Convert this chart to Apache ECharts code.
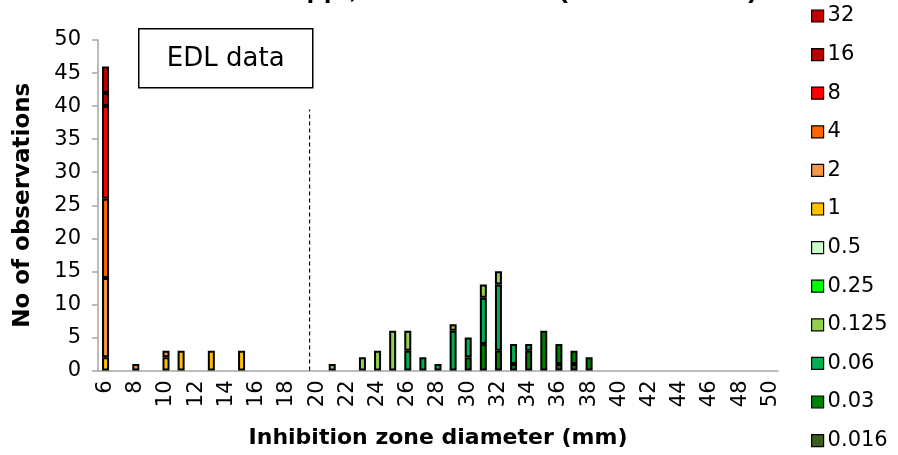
<!DOCTYPE html>
<html>
<head>
<meta charset="utf-8">
<script src="https://cdn.jsdelivr.net/npm/echarts@6/dist/echarts.min.js"></script>
<style>
  html, body { margin: 0; padding: 0; background: #fff; }
  #chart { width: 898px; height: 455px; }
</style>
</head>
<body>
<div id="chart"></div>
<script>
// zone diameters 6..50 mm
let zones = [];
for (let d = 6; d <= 50; d++) zones.push(String(d));

// MIC levels, bottom of the stack first
let micLevels = ['0.016', '0.03', '0.06', '0.125', '0.25', '0.5', '1', '2', '4', '8', '16', '32'];
let micColors = ['#3A5F1E', '#008000', '#00B050', '#92D050', '#00FF00', '#CCFFCC',
                 '#FFC000', '#F79646', '#FF6600', '#FF0000', '#B80000', '#C00000'];

// observations per zone diameter: [diameter, count]
let obs0016 = [[36, 1], [37, 1]];
let obs003 = [[30, 2], [31, 4], [32, 3], [33, 1], [34, 3], [35, 6], [36, 3], [37, 2], [38, 2]];
let obs006 = [[26, 3], [27, 2], [28, 1], [29, 6], [30, 3], [31, 7], [32, 10], [33, 3], [34, 1]];
let obs0125 = [[21, 1], [23, 2], [24, 3], [25, 6], [26, 3], [29, 1], [31, 2], [32, 2]];
let obs025 = [];
let obs05 = [];
let obs1 = [[6, 2], [10, 2], [11, 3], [13, 3], [15, 3]];
let obs2 = [[6, 12], [8, 1], [10, 1]];
let obs4 = [[6, 12]];
let obs8 = [[6, 14]];
let obs16 = [[6, 2]];
let obs32 = [[6, 4]];
let allObs = [obs0016, obs003, obs006, obs0125, obs025, obs05, obs1, obs2, obs4, obs8, obs16, obs32];

// breakpoint line between 19 and 20 mm
let breakpoint = 19.5;
let breakpointTop = 39.5;

function toSeriesData(pairs) {
  let arr = zones.map(() => 0);
  pairs.forEach(p => { arr[p[0] - 6] = p[1]; });
  return arr.map(v => v === 0 ? '-' : v);
}

let chart = echarts.init(document.querySelector('#chart'));

let series = micLevels.map((name, i) => ({
  name: name,
  type: 'bar',
  stack: 'mic',
  barWidth: 7,
  data: toSeriesData(allObs[i]),
  itemStyle: { color: micColors[i], borderColor: '#000', borderWidth: 2 }
}));

series.push({
  name: 'bp',
  type: 'line',
  xAxisIndex: 1,
  symbol: 'none',
  silent: true,
  data: [[breakpoint, 0], [breakpoint, breakpointTop]],
  lineStyle: { color: '#000', width: 1.2, type: [4, 3] }
});

let font = '"DejaVu Sans", Arial, sans-serif';

let option = {
  animation: false,
  textStyle: { fontFamily: font },
  grid: { left: 98, right: 120, top: 40, bottom: 84.5 },
  legend: {
    orient: 'vertical',
    left: 811,
    top: 5,
    padding: 0,
    icon: 'rect',
    itemWidth: 12,
    itemHeight: 12,
    itemGap: 16.6,
    data: micLevels.slice().reverse(),
    itemStyle: { borderColor: '#000', borderWidth: 1.2 },
    textStyle: { fontSize: 21, color: '#000', lineHeight: 22, padding: [0, 0, 0, -1] }
  },
  xAxis: [{
    type: 'category',
    data: zones,
    name: 'Inhibition zone diameter (mm)',
    nameLocation: 'middle',
    nameGap: 57,
    nameTextStyle: { fontSize: 22, fontWeight: 'bold', color: '#000' },
    axisLine: { lineStyle: { color: '#A6A6A6', width: 1.5 } },
    axisTick: { interval: 0, length: 6, lineStyle: { color: '#A6A6A6', width: 1.5 } },
    axisLabel: { interval: 1, rotate: 90, fontSize: 21, color: '#000', margin: 10 }
  }, {
    type: 'value',
    min: 5.5,
    max: 50.5,
    show: false
  }],
  yAxis: {
    type: 'value',
    min: 0,
    max: 50,
    interval: 5,
    name: 'No of observations',
    nameLocation: 'middle',
    nameGap: 63,
    nameTextStyle: { fontSize: 23, fontWeight: 'bold', color: '#000' },
    axisLine: { show: true, lineStyle: { color: '#A6A6A6', width: 1.5 } },
    axisTick: { show: true, length: 6, lineStyle: { color: '#A6A6A6', width: 1.5 } },
    axisLabel: { fontSize: 21, color: '#000', margin: 17 },
    splitLine: { show: false }
  },
  graphic: [
    {
      type: 'text',
      left: 98,
      top: -25,
      style: { text: 'Enterococcus spp., Nitrofurantoin (EUCAST data)', font: 'bold 28px "Liberation Sans", Arial, sans-serif', fill: '#000' }
    },
    {
      type: 'group',
      left: 138,
      top: 28,
      children: [
        { type: 'rect', shape: { x: 0, y: 0, width: 174, height: 59 }, style: { fill: '#fff', stroke: '#000', lineWidth: 1.5 } },
        { type: 'text', x: 87, y: 30, style: { text: 'EDL data', font: '26px ' + font, fill: '#000', align: 'center', verticalAlign: 'middle' } }
      ]
    }
  ],
  series: series
};

chart.setOption(option);
</script>
</body>
</html>
